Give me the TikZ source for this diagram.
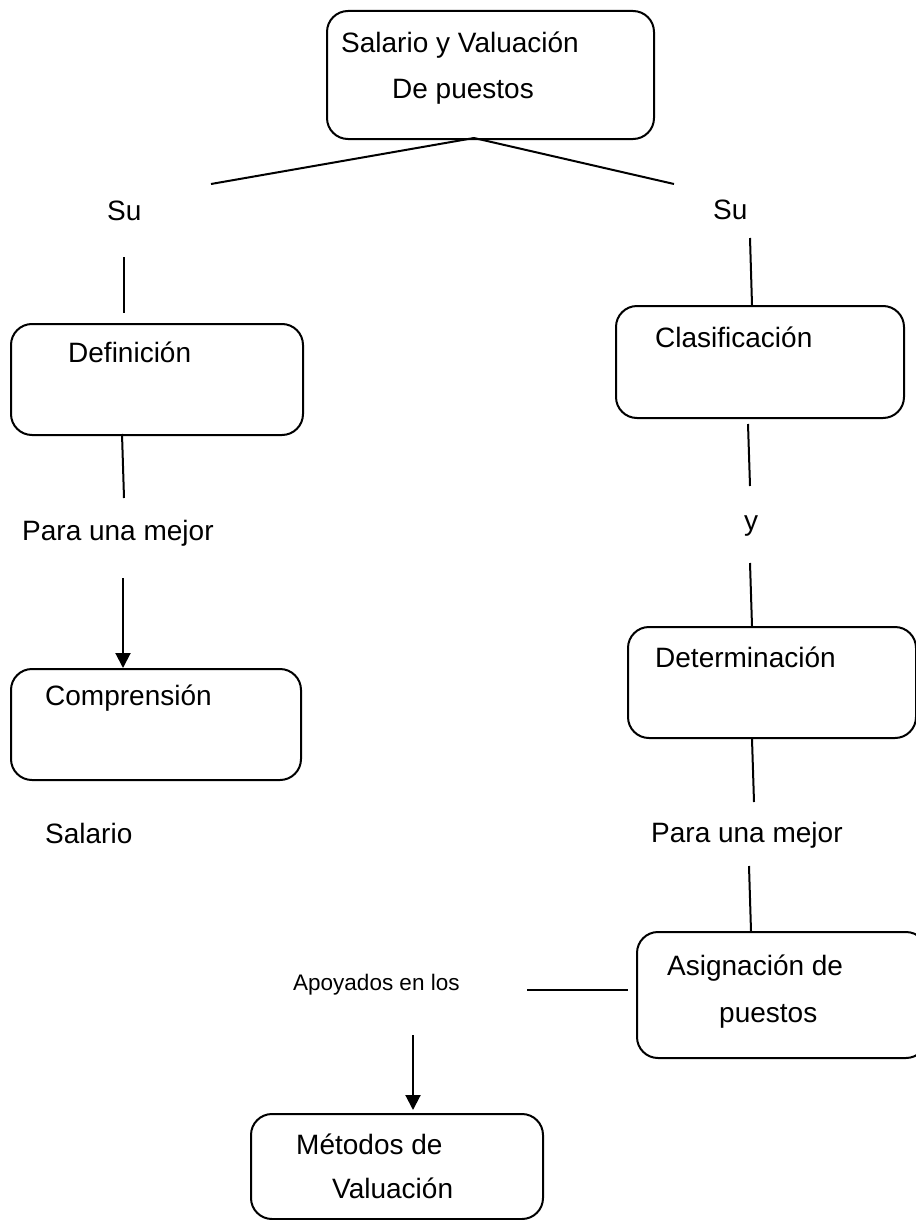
\documentclass[tikz,border=0pt]{standalone}
\usepackage{fontspec}
\setmainfont{Liberation Sans}
\usetikzlibrary{arrows.meta}
\begin{document}
\begin{tikzpicture}[x=1pt,y=-1pt,
  box/.style={draw, line width=2pt, rounded corners=21pt, inner sep=0pt, anchor=north west},
  txt/.style={anchor=base west, inner sep=0pt, font=\fontsize{28}{30}\selectfont},
  smalltxt/.style={anchor=base west, inner sep=0pt, font=\fontsize{22.5}{25}\selectfont},
  conn/.style={line width=2pt},
  arr/.style={conn, -{Triangle[width=15pt,length=15pt]}}]
\useasboundingbox (0,0) rectangle (915,1220);

% boxes
\node[box, minimum width=327pt, minimum height=128pt] (top) at (326,10) {};
\node[box, minimum width=292pt, minimum height=111pt] (def) at (10,323) {};
\node[box, minimum width=290pt, minimum height=111pt] (comp) at (10,668) {};
\node[box, minimum width=288pt, minimum height=112pt] (clas) at (615,305) {};
\node[box, minimum width=288pt, minimum height=111pt] (det) at (627,626) {};
\node[box, minimum width=290pt, minimum height=126pt] (asig) at (636,931) {};
\node[box, minimum width=292pt, minimum height=105pt] (met) at (250,1113) {};

% texts in boxes
\node[txt] (t1) at (341,53) {Salario y Valuación};
\node[txt] (t2) at (392,99) {De puestos};
\node[txt] (tdef) at (68,362) {Definición};
\node[txt] (tcomp) at (45,705) {Comprensión};
\node[txt] (tclas) at (655,347) {Clasificación};
\node[txt] (tdet) at (655,667) {Determinación};
\node[txt] (tasig1) at (667,975) {Asignación de};
\node[txt] (tasig2) at (719,1022) {puestos};
\node[txt] (tmet1) at (296,1154) {Métodos de};
\node[txt] (tmet2) at (332,1198) {Valuación};

% free labels
\node[txt] (su1) at (107,220) {Su};
\node[txt] (su2) at (713,219) {Su};
\node[txt] (para1) at (22,540) {Para una mejor};
\node[txt] (sal) at (45,843) {Salario};
\node[txt] (y) at (744,530) {y};
\node[txt] (para2) at (651,842) {Para una mejor};
\node[smalltxt] (apo) at (293,990) {Apoyados en los};

% coordinates for free ends
\coordinate (tb) at (474,138);
\coordinate (la) at (211,184);
\coordinate (ra) at (674,184);
\coordinate (l1a) at (124,257); \coordinate (l1b) at (124,313);
\coordinate (l2a) at (122,434); \coordinate (l2b) at (124,498);
\coordinate (a1a) at (123,578); \coordinate (a1b) at (123,668);
\coordinate (r1a) at (750,238); \coordinate (r1b) at (752,305);
\coordinate (r2a) at (748,424); \coordinate (r2b) at (750,486);
\coordinate (r3a) at (750,563); \coordinate (r3b) at (752,626);
\coordinate (r4a) at (752,739); \coordinate (r4b) at (754,802);
\coordinate (r5a) at (749,866); \coordinate (r5b) at (751,931);
\coordinate (ha) at (527,990); \coordinate (hb) at (628,990);
\coordinate (a2a) at (413,1035); \coordinate (a2b) at (413,1110);

% connectors
\draw[conn] (tb) -- (la);
\draw[conn] (tb) -- (ra);
\draw[conn] (l1a) -- (l1b);
\draw[conn] (l2a) -- (l2b);
\draw[arr] (a1a) -- (a1b);
\draw[conn] (r1a) -- (r1b);
\draw[conn] (r2a) -- (r2b);
\draw[conn] (r3a) -- (r3b);
\draw[conn] (r4a) -- (r4b);
\draw[conn] (r5a) -- (r5b);
\draw[conn] (ha) -- (hb);
\draw[arr] (a2a) -- (a2b);
\end{tikzpicture}
\end{document}
